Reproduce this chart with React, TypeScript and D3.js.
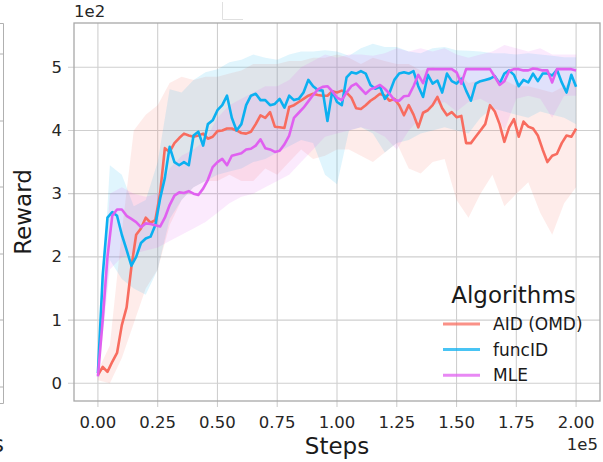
import React from 'react';
import * as d3 from 'd3';

// reward curves, sampled every 2k steps (0 .. 200k)
const lineSteps = d3.range(0, 200001, 2000);
const aidMean = [
  13, 26, 18, 34, 48, 92, 120, 184, 235, 245, 262, 254, 258, 300, 372, 366, 380, 388, 395, 392,
  390, 392, 395, 387, 390, 399, 400, 403, 403, 400, 396, 395, 398, 410, 424, 420, 429, 406, 405, 404,
  437, 440, 445, 450, 455, 458, 456, 455, 455, 462, 460, 463, 460, 452, 435, 434, 440, 447, 452, 458,
  455, 447, 450, 440, 424, 440, 425, 405, 428, 432, 440, 453, 435, 424, 429, 421, 423, 380, 380, 390,
  400, 410, 440, 430, 410, 382, 405, 418, 390, 414, 406, 403, 392, 370, 350, 360, 363, 380, 392, 390,
  403,
];
const funcIdMean = [
  16, 170, 262, 271, 265, 235, 211, 186, 200, 222, 229, 232, 250, 292, 325, 374, 350, 345, 350, 345,
  392, 398, 376, 410, 416, 432, 440, 455, 420, 400, 410, 440, 455, 458, 448, 448, 440, 442, 450, 436,
  455, 448, 450, 460, 480, 470, 464, 463, 415, 462, 445, 440, 484, 492, 490, 494, 490, 472, 466, 469,
  450, 460, 480, 490, 492, 490, 494, 470, 453, 488, 474, 479, 460, 490, 478, 474, 482, 463, 447, 474,
  478, 480, 482, 486, 474, 490, 495, 488, 470, 480, 476, 490, 478, 490, 490, 487, 496, 476, 460, 488,
  469,
];
const mleMean = [
  11, 100, 200, 265, 275, 275, 265, 260, 255, 247, 253, 252, 250, 248, 262, 282, 297, 302, 301, 304,
  300, 298, 308, 322, 342, 350, 355, 345, 360, 362, 364, 370, 371, 376, 386, 372, 370, 366, 368, 378,
  392, 420, 428, 436, 446, 456, 465, 469, 470, 462, 452, 448, 460, 470, 474, 466, 458, 465, 468, 472,
  466, 458, 448, 447, 454, 455, 470, 488, 475, 497, 497, 497, 497, 497, 497, 492, 474, 497, 497, 497,
  497, 497, 497, 485, 472, 478, 494, 497, 497, 495, 495, 498, 497, 495, 495, 476, 497, 497, 497, 497,
  495,
];

// shaded spread, sampled every 5k steps
const bandSteps = d3.range(0, 200001, 5000);
const aidLow = [
  5, 0, 40, 95, 150, 180, 250, 290, 310, 320, 320, 330, 320, 320, 340, 330, 350, 370, 355, 360,
  370, 370, 360, 350, 365, 380, 340, 332, 350, 355, 290, 262, 300, 330, 280, 300, 318, 270, 235, 285, 310,
];
const aidHigh = [
  20, 60, 240, 400, 425, 440, 475, 485, 480, 485, 485, 490, 495, 505, 505, 505, 510, 510, 515, 515,
  520, 515, 505, 515, 510, 505, 505, 495, 500, 495, 495, 475, 480, 485, 480, 470, 470, 465, 460, 470, 480,
];
const funcIdLow = [
  10, 195, 165, 150, 140, 180, 260, 290, 310, 320, 330, 335, 340, 350, 355, 365, 375, 385, 380, 330,
  315, 400, 405, 395, 365, 380, 385, 395, 400, 405, 400, 395, 420, 435, 430, 425, 420, 430, 425, 420, 410,
];
const funcIdHigh = [
  22, 345, 330, 280, 290, 350, 465, 460, 480, 492, 497, 508, 512, 520, 515, 512, 520, 525, 525, 527,
  525, 518, 530, 537, 532, 532, 525, 522, 530, 532, 527, 526, 525, 522, 522, 520, 522, 520, 518, 516, 516,
];
const mleLow = [
  5, 180, 200, 205, 210, 215, 225, 235, 245, 255, 270, 285, 295, 300, 310, 320, 330, 350, 370, 390,
  395, 400, 405, 400, 390, 370, 400, 420, 440, 445, 430, 445, 450, 440, 400, 450, 455, 450, 420, 455, 455,
];
const mleHigh = [
  18, 300, 310, 300, 295, 300, 340, 360, 370, 385, 420, 440, 450, 460, 470, 470, 480, 500, 510, 520,
  515, 520, 520, 518, 522, 530, 525, 530, 525, 530, 520, 515, 520, 525, 535, 530, 525, 530, 520, 520, 520,
];

const algorithms = ['AID (OMD)', 'funcID', 'MLE'];
const colors = ['#f86c5f', '#0cb0f0', '#e060f0'];
const xTicks = [0, 25000, 50000, 75000, 100000, 125000, 150000, 175000, 200000];
const yTicks = [0, 100, 200, 300, 400, 500];

const series = [
  { mean: aidMean, low: aidLow, high: aidHigh },
  { mean: funcIdMean, low: funcIdLow, high: funcIdHigh },
  { mean: mleMean, low: mleLow, high: mleHigh },
];

const W = 603;
const H = 462;
const plot = { left: 74, top: 23, right: 600, bottom: 401 };
const font = 'DejaVu Sans, sans-serif';

export default function App() {
  const x = d3.scaleLinear().domain([-10000, 210000]).range([plot.left, plot.right]);
  const y = d3.scaleLinear().domain([-28, 570]).range([plot.bottom, plot.top]);

  const line = d3.line<number>()
    .x((_, i) => x(lineSteps[i]))
    .y(d => y(d));

  const band = (low: number[], high: number[]) =>
    d3.area<number>()
      .x((_, i) => x(bandSteps[i]))
      .y0((_, i) => y(low[i]))
      .y1((_, i) => y(high[i]))(low) as string;

  return (
    <svg width={W} height={H} style={{ position: 'absolute', left: 0, top: 0, background: '#fff' }} fontFamily={font}>
      {/* bits of the neighbouring figure */}
      <path d="M0,23.5H3.5V403.5H0" fill="none" stroke="#b0b0b0" strokeWidth={1} />
      {[54, 121, 187, 254, 320, 387].map(t => (
        <line key={t} x1={0} x2={3} y1={t} y2={t} stroke="#b0b0b0" />
      ))}
      <text x={-8} y={452} fontSize={23} fill="#222">s</text>
      <path d="M222.5,2V19.5H243" fill="none" stroke="#e0e0e0" />

      <clipPath id="plot-clip">
        <rect x={plot.left} y={plot.top} width={plot.right - plot.left} height={plot.bottom - plot.top} />
      </clipPath>

      {/* grid */}
      {xTicks.map(t => (
        <line key={'gx' + t} x1={x(t)} x2={x(t)} y1={plot.top} y2={plot.bottom + 6} stroke="#cfcfcf" strokeWidth={1.1} />
      ))}
      {yTicks.map(t => (
        <line key={'gy' + t} x1={plot.left - 6} x2={plot.right} y1={y(t)} y2={y(t)} stroke="#cfcfcf" strokeWidth={1.1} />
      ))}

      <g clipPath="url(#plot-clip)">
        {series.map((s, i) => (
          <path key={'b' + i} d={band(s.low, s.high)} fill={colors[i]} fillOpacity={0.13} stroke="none" />
        ))}
        {series.map((s, i) => (
          <path key={'l' + i} d={line(s.mean) as string} fill="none" stroke={colors[i]} strokeWidth={2.6} strokeLinejoin="round" />
        ))}
      </g>

      {/* frame */}
      <rect x={plot.left} y={plot.top} width={plot.right - plot.left} height={plot.bottom - plot.top} fill="none" stroke="#a8a8a8" strokeWidth={1.3} />

      {/* tick labels */}
      {xTicks.map(t => (
        <text key={'tx' + t} x={x(t)} y={428} fontSize={16.5} textAnchor="middle" fill="#262626">
          {(t / 100000).toFixed(2)}
        </text>
      ))}
      {yTicks.map(t => (
        <text key={'ty' + t} x={62} y={y(t)} fontSize={16.5} textAnchor="end" dominantBaseline="central" fill="#262626">
          {t / 100}
        </text>
      ))}
      <text x={74} y={17} fontSize={16.5} fill="#262626">1e2</text>
      <text x={598} y={450} fontSize={16.5} textAnchor="end" fill="#262626">1e5</text>

      {/* axis titles */}
      <text x={(plot.left + plot.right) / 2} y={454} fontSize={23} textAnchor="middle" fill="#1a1a1a">Steps</text>
      <text transform={`translate(31,${(plot.top + plot.bottom) / 2}) rotate(-90)`} fontSize={23} textAnchor="middle" fill="#1a1a1a">Reward</text>

      {/* legend */}
      <text x={513.5} y={303} fontSize={23} textAnchor="middle" fill="#1a1a1a">Algorithms</text>
      {algorithms.map((name, i) => {
        const cy = 324 + i * 25.6;
        return (
          <g key={name}>
            <line x1={443} x2={480} y1={cy} y2={cy} stroke={colors[i]} strokeWidth={3} strokeOpacity={0.75} />
            <text x={493} y={cy} fontSize={17} dominantBaseline="central" fill="#1a1a1a">{name}</text>
          </g>
        );
      })}
    </svg>
  );
}
